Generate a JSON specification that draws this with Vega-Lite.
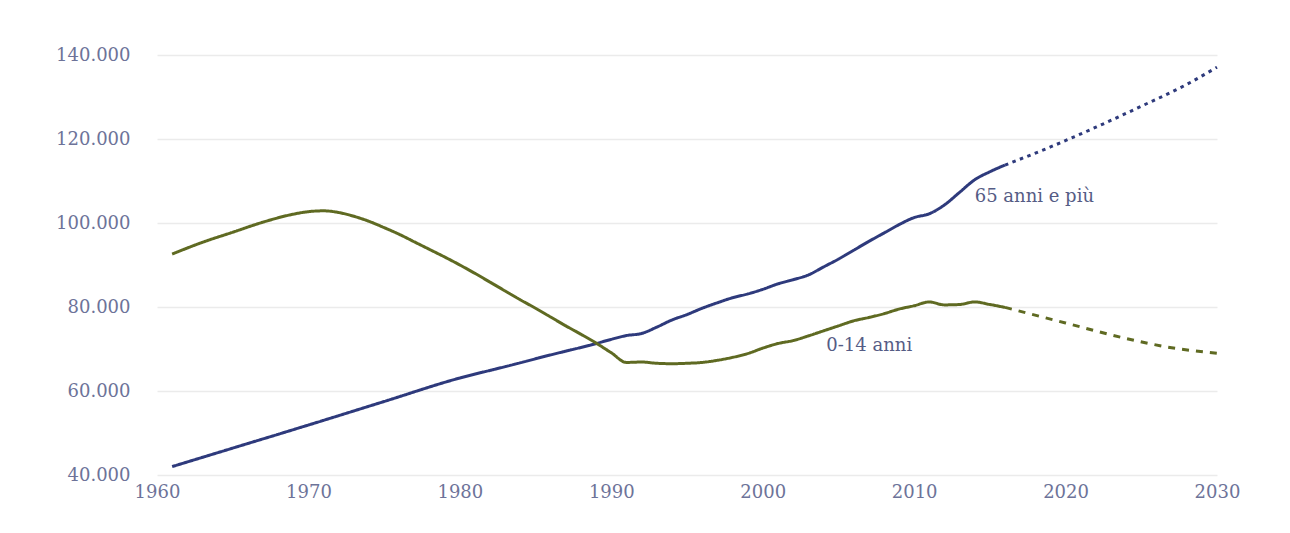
{
  "$schema": "https://vega.github.io/schema/vega-lite/v6.json",
  "autosize": {"type": "none"},
  "padding": {"left": 157, "top": 55, "right": 73, "bottom": 58},
  "width": 1060,
  "height": 420,
  "background": "#ffffff",
  "config": {"view": {"stroke": null}},
  "datasets": {
    "lines": [
      {"year": 1961, "value": 42000, "serie": "65 anni e più", "tratto": "solid"},
      {"year": 1965, "value": 46400, "serie": "65 anni e più", "tratto": "solid"},
      {"year": 1970, "value": 51900, "serie": "65 anni e più", "tratto": "solid"},
      {"year": 1975, "value": 57500, "serie": "65 anni e più", "tratto": "solid"},
      {"year": 1980, "value": 63100, "serie": "65 anni e più", "tratto": "solid"},
      {"year": 1983, "value": 65800, "serie": "65 anni e più", "tratto": "solid"},
      {"year": 1986, "value": 68600, "serie": "65 anni e più", "tratto": "solid"},
      {"year": 1989, "value": 71300, "serie": "65 anni e più", "tratto": "solid"},
      {"year": 1990, "value": 72300, "serie": "65 anni e più", "tratto": "solid"},
      {"year": 1991, "value": 73200, "serie": "65 anni e più", "tratto": "solid"},
      {"year": 1992, "value": 73700, "serie": "65 anni e più", "tratto": "solid"},
      {"year": 1993, "value": 75200, "serie": "65 anni e più", "tratto": "solid"},
      {"year": 1994, "value": 76900, "serie": "65 anni e più", "tratto": "solid"},
      {"year": 1995, "value": 78200, "serie": "65 anni e più", "tratto": "solid"},
      {"year": 1996, "value": 79700, "serie": "65 anni e più", "tratto": "solid"},
      {"year": 1997, "value": 81000, "serie": "65 anni e più", "tratto": "solid"},
      {"year": 1998, "value": 82200, "serie": "65 anni e più", "tratto": "solid"},
      {"year": 1999, "value": 83100, "serie": "65 anni e più", "tratto": "solid"},
      {"year": 2000, "value": 84200, "serie": "65 anni e più", "tratto": "solid"},
      {"year": 2001, "value": 85500, "serie": "65 anni e più", "tratto": "solid"},
      {"year": 2002, "value": 86500, "serie": "65 anni e più", "tratto": "solid"},
      {"year": 2003, "value": 87600, "serie": "65 anni e più", "tratto": "solid"},
      {"year": 2004, "value": 89500, "serie": "65 anni e più", "tratto": "solid"},
      {"year": 2005, "value": 91400, "serie": "65 anni e più", "tratto": "solid"},
      {"year": 2006, "value": 93500, "serie": "65 anni e più", "tratto": "solid"},
      {"year": 2007, "value": 95600, "serie": "65 anni e più", "tratto": "solid"},
      {"year": 2008, "value": 97600, "serie": "65 anni e più", "tratto": "solid"},
      {"year": 2009, "value": 99600, "serie": "65 anni e più", "tratto": "solid"},
      {"year": 2010, "value": 101300, "serie": "65 anni e più", "tratto": "solid"},
      {"year": 2011, "value": 102200, "serie": "65 anni e più", "tratto": "solid"},
      {"year": 2012, "value": 104300, "serie": "65 anni e più", "tratto": "solid"},
      {"year": 2013, "value": 107300, "serie": "65 anni e più", "tratto": "solid"},
      {"year": 2014, "value": 110300, "serie": "65 anni e più", "tratto": "solid"},
      {"year": 2015, "value": 112200, "serie": "65 anni e più", "tratto": "solid"},
      {"year": 2016, "value": 113800, "serie": "65 anni e più", "tratto": "solid"},
      {"year": 2016, "value": 113800, "serie": "65 anni e più", "tratto": "dotted"},
      {"year": 2019, "value": 118100, "serie": "65 anni e più", "tratto": "dotted"},
      {"year": 2022, "value": 122800, "serie": "65 anni e più", "tratto": "dotted"},
      {"year": 2025, "value": 127800, "serie": "65 anni e più", "tratto": "dotted"},
      {"year": 2028, "value": 133000, "serie": "65 anni e più", "tratto": "dotted"},
      {"year": 2030, "value": 137100, "serie": "65 anni e più", "tratto": "dotted"},
      {"year": 1961, "value": 92600, "serie": "0-14 anni", "tratto": "solid"},
      {"year": 1963, "value": 95400, "serie": "0-14 anni", "tratto": "solid"},
      {"year": 1965, "value": 97800, "serie": "0-14 anni", "tratto": "solid"},
      {"year": 1967, "value": 100200, "serie": "0-14 anni", "tratto": "solid"},
      {"year": 1969, "value": 102100, "serie": "0-14 anni", "tratto": "solid"},
      {"year": 1970, "value": 102700, "serie": "0-14 anni", "tratto": "solid"},
      {"year": 1971, "value": 102900, "serie": "0-14 anni", "tratto": "solid"},
      {"year": 1972, "value": 102500, "serie": "0-14 anni", "tratto": "solid"},
      {"year": 1973, "value": 101600, "serie": "0-14 anni", "tratto": "solid"},
      {"year": 1974, "value": 100400, "serie": "0-14 anni", "tratto": "solid"},
      {"year": 1975, "value": 98900, "serie": "0-14 anni", "tratto": "solid"},
      {"year": 1976, "value": 97300, "serie": "0-14 anni", "tratto": "solid"},
      {"year": 1977, "value": 95500, "serie": "0-14 anni", "tratto": "solid"},
      {"year": 1978, "value": 93700, "serie": "0-14 anni", "tratto": "solid"},
      {"year": 1979, "value": 91900, "serie": "0-14 anni", "tratto": "solid"},
      {"year": 1980, "value": 90000, "serie": "0-14 anni", "tratto": "solid"},
      {"year": 1981, "value": 88000, "serie": "0-14 anni", "tratto": "solid"},
      {"year": 1982, "value": 85900, "serie": "0-14 anni", "tratto": "solid"},
      {"year": 1983, "value": 83800, "serie": "0-14 anni", "tratto": "solid"},
      {"year": 1984, "value": 81700, "serie": "0-14 anni", "tratto": "solid"},
      {"year": 1985, "value": 79700, "serie": "0-14 anni", "tratto": "solid"},
      {"year": 1986, "value": 77600, "serie": "0-14 anni", "tratto": "solid"},
      {"year": 1987, "value": 75500, "serie": "0-14 anni", "tratto": "solid"},
      {"year": 1988, "value": 73500, "serie": "0-14 anni", "tratto": "solid"},
      {"year": 1989, "value": 71400, "serie": "0-14 anni", "tratto": "solid"},
      {"year": 1990, "value": 69100, "serie": "0-14 anni", "tratto": "solid"},
      {"year": 1991, "value": 66800, "serie": "0-14 anni", "tratto": "solid"},
      {"year": 1992, "value": 66900, "serie": "0-14 anni", "tratto": "solid"},
      {"year": 1993, "value": 66600, "serie": "0-14 anni", "tratto": "solid"},
      {"year": 1994, "value": 66500, "serie": "0-14 anni", "tratto": "solid"},
      {"year": 1995, "value": 66600, "serie": "0-14 anni", "tratto": "solid"},
      {"year": 1996, "value": 66800, "serie": "0-14 anni", "tratto": "solid"},
      {"year": 1997, "value": 67300, "serie": "0-14 anni", "tratto": "solid"},
      {"year": 1998, "value": 68000, "serie": "0-14 anni", "tratto": "solid"},
      {"year": 1999, "value": 68900, "serie": "0-14 anni", "tratto": "solid"},
      {"year": 2000, "value": 70200, "serie": "0-14 anni", "tratto": "solid"},
      {"year": 2001, "value": 71300, "serie": "0-14 anni", "tratto": "solid"},
      {"year": 2002, "value": 72000, "serie": "0-14 anni", "tratto": "solid"},
      {"year": 2003, "value": 73100, "serie": "0-14 anni", "tratto": "solid"},
      {"year": 2004, "value": 74300, "serie": "0-14 anni", "tratto": "solid"},
      {"year": 2005, "value": 75500, "serie": "0-14 anni", "tratto": "solid"},
      {"year": 2006, "value": 76700, "serie": "0-14 anni", "tratto": "solid"},
      {"year": 2007, "value": 77500, "serie": "0-14 anni", "tratto": "solid"},
      {"year": 2008, "value": 78400, "serie": "0-14 anni", "tratto": "solid"},
      {"year": 2009, "value": 79500, "serie": "0-14 anni", "tratto": "solid"},
      {"year": 2010, "value": 80300, "serie": "0-14 anni", "tratto": "solid"},
      {"year": 2011, "value": 81200, "serie": "0-14 anni", "tratto": "solid"},
      {"year": 2012, "value": 80500, "serie": "0-14 anni", "tratto": "solid"},
      {"year": 2013, "value": 80600, "serie": "0-14 anni", "tratto": "solid"},
      {"year": 2014, "value": 81200, "serie": "0-14 anni", "tratto": "solid"},
      {"year": 2015, "value": 80600, "serie": "0-14 anni", "tratto": "solid"},
      {"year": 2016, "value": 79900, "serie": "0-14 anni", "tratto": "solid"},
      {"year": 2016, "value": 79900, "serie": "0-14 anni", "tratto": "dashed"},
      {"year": 2020, "value": 76200, "serie": "0-14 anni", "tratto": "dashed"},
      {"year": 2024, "value": 72500, "serie": "0-14 anni", "tratto": "dashed"},
      {"year": 2027, "value": 70300, "serie": "0-14 anni", "tratto": "dashed"},
      {"year": 2030, "value": 69000, "serie": "0-14 anni", "tratto": "dashed"}
    ],
    "labels": [
      {"year": 2014.0, "value": 106300, "label": "65 anni e più"},
      {"year": 2004.2, "value": 70700, "label": "0-14 anni"}
    ]
  },
  "layer": [
    {
      "data": {"name": "lines"},
      "mark": {"type": "line", "strokeWidth": 3, "interpolate": "monotone", "strokeCap": "butt"},
      "encoding": {
        "x": {
          "field": "year", "type": "quantitative",
          "scale": {"domain": [1960, 2030], "nice": false, "zero": false},
          "axis": {
            "values": [1960, 1970, 1980, 1990, 2000, 2010, 2020, 2030],
            "format": "d", "title": null, "grid": false, "domain": false, "ticks": false,
            "labelPadding": 8, "labelFont": "DejaVu Serif", "labelFontSize": 18,
            "labelColor": "#6d7399", "labelFlush": false
          }
        },
        "y": {
          "field": "value", "type": "quantitative",
          "scale": {"domain": [40000, 140000], "nice": false, "zero": false},
          "axis": {
            "values": [40000, 60000, 80000, 100000, 120000, 140000],
            "labelExpr": "replace(format(datum.value, ','), ',', '.')",
            "title": null, "grid": true, "gridColor": "#ebebeb", "gridWidth": 1.5,
            "domain": false, "ticks": false, "labelPadding": 27,
            "labelFont": "DejaVu Serif", "labelFontSize": 18, "labelColor": "#6d7399"
          }
        },
        "color": {
          "field": "serie", "type": "nominal",
          "scale": {"domain": ["65 anni e più", "0-14 anni"], "range": ["#2e3a7c", "#5f6a22"]},
          "legend": null
        },
        "strokeDash": {
          "field": "tratto", "type": "nominal",
          "scale": {"domain": ["solid", "dotted", "dashed"], "range": [[1, 0], [3.5, 4.5], [7, 7]]},
          "legend": null
        },
        "detail": {"field": "serie"}
      }
    },
    {
      "data": {"name": "labels"},
      "mark": {"type": "text", "align": "left", "baseline": "middle", "font": "DejaVu Serif", "fontSize": 18, "color": "#555c85"},
      "encoding": {
        "x": {"field": "year", "type": "quantitative"},
        "y": {"field": "value", "type": "quantitative"},
        "text": {"field": "label"}
      }
    }
  ]
}
